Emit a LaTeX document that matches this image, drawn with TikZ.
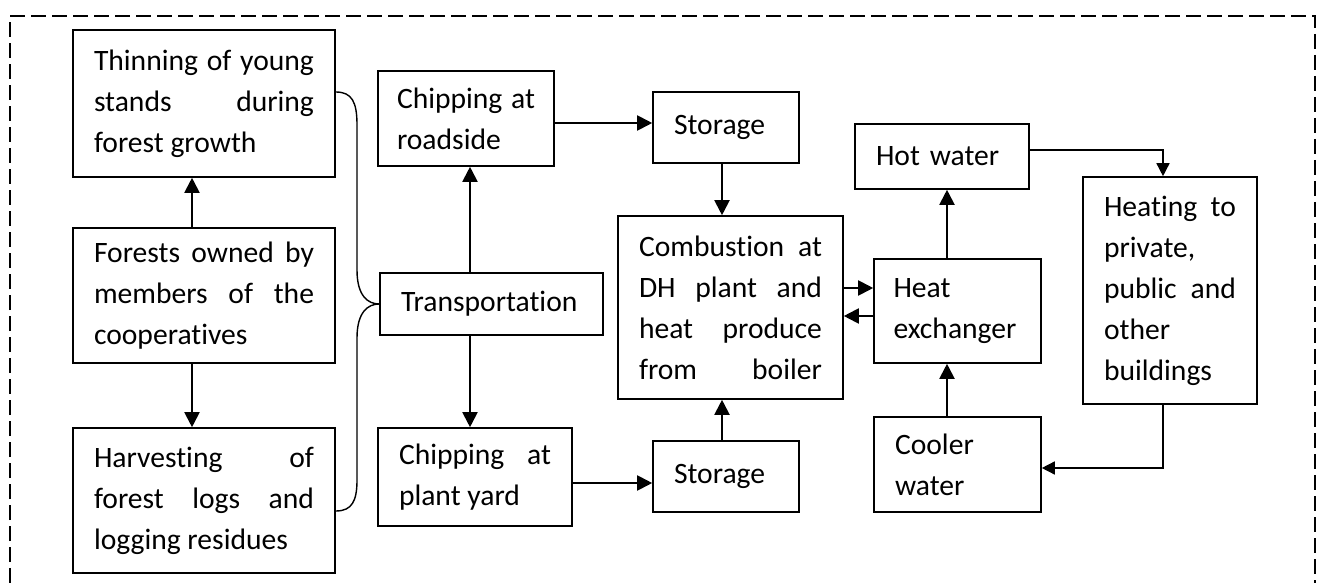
\documentclass[tikz,border=0pt]{standalone}
\usepackage{fontspec}
\setmainfont{Carlito}[Ligatures=NoCommon]
\usepackage{tikz}
\usetikzlibrary{arrows.meta, calc}
\definecolor{ink}{RGB}{0,0,0}
\newcommand{\flowfont}{\fontsize{14.8}{20.5}\selectfont}
\hbadness=10000
\tolerance=10000
\hyphenpenalty=10000

\begin{document}
\begin{tikzpicture}[
  x=0.5pt, y=-0.5pt,
  box/.style={draw=ink, line width=0.8pt, rectangle, inner xsep=10.5pt,
              inner ysep=0pt, align=justify, font=\flowfont, text=ink},
  arr/.style={draw=ink, line width=1pt, -{Triangle[length=7.5pt, width=7.5pt]}},
  arrthin/.style={draw=ink, line width=0.75pt, -{Triangle[length=6.5pt, width=6.5pt]}},
  brace/.style={draw=ink, line width=0.7pt},
  frame/.style={draw=ink, line width=0.6pt, dash pattern=on 7.5pt off 3pt}]
  \useasboundingbox (0,0) rectangle (1319,583);
  \draw[frame] (10,583) -- (10,16) -- (1315,16) -- (1315,583);
  % forest side
  \node[box, text width=110pt, minimum height=73.5pt] (thin) at (204,103.5)
    {Thinning of young\linebreak stands during\linebreak forest growth};
  \node[box, text width=110pt, minimum height=67.5pt] (forest) at (204,295.5)
    {Forests owned by\linebreak members of the\linebreak cooperatives};
  \node[box, text width=110pt, minimum height=72.5pt] (harv) at (204,500.5)
    {Harvesting of\linebreak forest logs and\linebreak logging residues};
  % chipping and storage
  \node[box, text width=69pt, inner xsep=9.5pt, minimum height=47.5pt] (road) at (466,118.5)
    {Chipping at\linebreak roadside};
  \node[box, text width=90.5pt, minimum height=31pt, align=left] (trans) at (491.5,304)
    {Transportation};
  \node[box, text width=76pt, minimum height=49pt] (plant) at (475,477)
    {Chipping at\linebreak plant yard};
  \node[box, text width=52pt, minimum height=35.5pt, align=left] (stoA) at (726,127.5)
    {Storage};
  \node[box, text width=52pt, minimum height=35.5pt, align=left] (stoB) at (726,476.5)
    {Storage};
  \node[box, text width=91.5pt, minimum height=91.5pt] (comb) at (730.5,307.5)
    {Combustion at\linebreak DH plant and\linebreak heat produce\linebreak from\hfill boiler};
  % heat circuit
  \node[box, text width=66pt, minimum height=32.5pt, align=left] (hot) at (942,156.5)
    {Hot water};
  \node[box, text width=64pt, inner xsep=9.75pt, minimum height=52pt, align=left] (hx) at (957.5,311)
    {Heat\\ exchanger};
  \node[box, text width=66pt, minimum height=113.5pt] (heat) at (1170,290.5)
    {Heating to\linebreak private,\linebreak public and\linebreak other\linebreak buildings};
  \node[box, text width=62.5pt, minimum height=47.5pt, align=left] (cool) at (957.5,464.5)
    {Cooler\\ water};
  % connectors
  \draw[arr] ([xshift=-6pt]forest.north) -- ([xshift=-6pt]thin.south);
  \draw[arr] ([xshift=-6pt]forest.south) -- ([xshift=-6pt]harv.north);
  \draw[brace] ([yshift=5.75pt]thin.east) .. controls (352,92) and (357,102) .. (357,125)
    -- (357,270) .. controls (357,296) and (368,304) .. (trans.west);
  \draw[brace] ([yshift=-5.25pt]harv.east) .. controls (352,511) and (357,501) .. (357,480)
    -- (357,338) .. controls (357,312) and (368,304) .. (trans.west);
  \draw[arr] ([xshift=-10.75pt]trans.north) -- ([xshift=-10.75pt]trans.north |- road.south);
  \draw[arr] ([xshift=-10.75pt]trans.south) -- ([xshift=-10.75pt]trans.south |- plant.north);
  \draw[arr] ([yshift=-2.25pt]road.east) -- ([yshift=-2.25pt]road.east -| stoA.west);
  \draw[arr] ([yshift=-3pt]plant.east) -- ([yshift=-3pt]plant.east -| stoB.west);
  \draw[arr] ([xshift=-2pt]stoA.south) -- ([xshift=-2pt]stoA.south |- comb.north);
  \draw[arr] ([xshift=-2pt]stoB.north) -- ([xshift=-2pt]stoB.north |- comb.south);
  \draw[arr] ([yshift=9.75pt]comb.east) -- ([yshift=9.75pt]comb.east -| hx.west);
  \draw[arr] ([yshift=-4.25pt]comb.east -| hx.west) -- ([yshift=-4.25pt]comb.east);
  \draw[arr] ([xshift=-5.25pt]hx.north) -- ([xshift=-5.25pt]hx.north |- hot.south);
  \draw[arr] ([xshift=-5.25pt]cool.north) -- ([xshift=-5.25pt]cool.north |- hx.south);
  \draw[arrthin] ([yshift=3.25pt]hot.east) -| ([xshift=-3.5pt]heat.north);
  \draw[arrthin] ([xshift=-3.5pt]heat.south) |- ([yshift=-1.75pt]cool.east);
\end{tikzpicture}
\end{document}
